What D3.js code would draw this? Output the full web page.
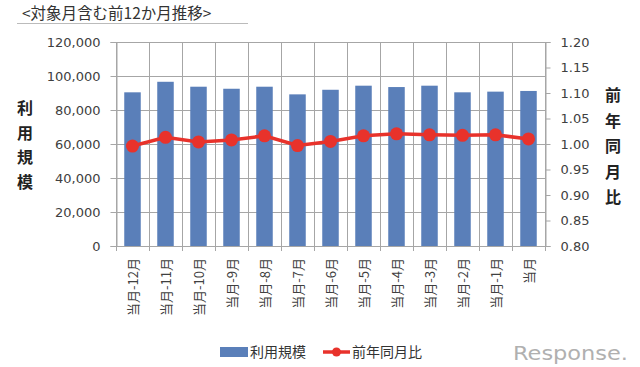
<!DOCTYPE html>
<html><head><meta charset="utf-8">
<script src="https://cdn.jsdelivr.net/npm/d3@7"></script>
<style>
body{margin:0;background:#fff;}
svg{display:block;}
</style></head>
<body>
<svg id="c" width="640" height="367"></svg>
<script>
const categories = ["当月-12月","当月-11月","当月-10月","当月-9月","当月-8月","当月-7月","当月-6月","当月-5月","当月-4月","当月-3月","当月-2月","当月-1月","当月"];
const usage = [90400, 96600, 93700, 92500, 93700, 89200, 91900, 94300, 93500, 94300, 90400, 90800, 91200];
const yoy = [0.996, 1.013, 1.004, 1.008, 1.016, 0.997, 1.005, 1.016, 1.020, 1.018, 1.017, 1.018, 1.010];
const leftTicks = [0, 20000, 40000, 60000, 80000, 100000, 120000];
const rightTicks = [0.80, 0.85, 0.90, 0.95, 1.00, 1.05, 1.10, 1.15, 1.20];
const title = "<対象月含む前12か月推移>";
const leftTitle = "利用規模";
const rightTitle = "前年同月比";

const svg = d3.select("#c");
const L = 116, R = 545, T = 42, B = 246;
const numFont = "'DejaVu Sans', sans-serif";
const jpFont = "'Noto Sans CJK JP', sans-serif";
const gridC = "#a6a6a6", textC = "#404040";
const barC = "#5a7fb9", lineC = "#e8322b";

const x = d3.scaleBand().domain(categories).range([L, R]).paddingInner(0.5).paddingOuter(0.25);
const xb = d3.scaleBand().domain(categories).range([L, R]);
const yL = d3.scaleLinear().domain([0, 120000]).range([B, T]);
const yR = d3.scaleLinear().domain([0.80, 1.20]).range([B, T]);

// title
svg.append("text").attr("x", 22).attr("y", 19).attr("font-family", jpFont).attr("font-size", 15.5)
  .attr("fill", "#333").text(title);
svg.append("line").attr("x1", 17).attr("x2", 248).attr("y1", 23.5).attr("y2", 23.5).attr("stroke", "#bbb").attr("stroke-width", 1);

// horizontal grid
svg.append("g").selectAll("line").data(leftTicks).join("line")
  .attr("x1", L).attr("x2", R).attr("y1", d => Math.round(yL(d)) + 0.5).attr("y2", d => Math.round(yL(d)) + 0.5)
  .attr("stroke", gridC).attr("stroke-width", 1);
// vertical grid
const bounds = categories.map(c => xb(c)).concat([R]);
svg.append("g").selectAll("line").data(bounds).join("line")
  .attr("x1", d => Math.round(d) + 0.5).attr("x2", d => Math.round(d) + 0.5).attr("y1", T).attr("y2", B + 5)
  .attr("stroke", gridC).attr("stroke-width", 1);

// bars
svg.append("g").selectAll("rect").data(usage).join("rect")
  .attr("x", (d, i) => x(categories[i])).attr("width", x.bandwidth())
  .attr("y", d => yL(d)).attr("height", d => B - yL(d)).attr("fill", barC);

// left axis
const gL = svg.append("g").attr("transform", `translate(${L + 0.5},0)`)
  .call(d3.axisLeft(yL).tickValues(leftTicks).tickSize(6).tickPadding(10).tickFormat(d3.format(",")));
gL.select(".domain").attr("stroke", gridC);
gL.selectAll(".tick line").attr("stroke", gridC);
gL.selectAll("text").attr("font-family", numFont).attr("font-size", 13).attr("fill", textC);

// right axis
const gR = svg.append("g").attr("transform", `translate(${R + 0.5},0)`)
  .call(d3.axisRight(yR).tickValues(rightTicks).tickSize(5).tickPadding(10).tickFormat(d3.format(".2f")));
gR.select(".domain").attr("stroke", gridC);
gR.selectAll(".tick line").attr("stroke", gridC);
gR.selectAll("text").attr("font-family", numFont).attr("font-size", 13).attr("fill", textC);

// bottom axis line
svg.append("line").attr("x1", L).attr("x2", R).attr("y1", B + 0.5).attr("y2", B + 0.5).attr("stroke", gridC);

// x labels
svg.append("g").selectAll("text").data(categories).join("text")
  .attr("transform", d => `translate(${x(d) + x.bandwidth() / 2 + 5},${B + 12}) rotate(-90)`)
  .attr("text-anchor", "end").attr("font-family", jpFont).attr("font-size", 13).attr("fill", textC)
  .text(d => d);

// line
const line = d3.line().x((d, i) => x(categories[i]) + x.bandwidth() / 2).y(d => yR(d));
svg.append("path").datum(yoy).attr("d", line).attr("fill", "none").attr("stroke", lineC).attr("stroke-width", 3.5);
svg.append("g").selectAll("circle").data(yoy).join("circle")
  .attr("cx", (d, i) => x(categories[i]) + x.bandwidth() / 2).attr("cy", d => yR(d)).attr("r", 6.5).attr("fill", lineC);

// axis titles (vertical stacked)
svg.append("g").selectAll("text").data(Array.from(leftTitle)).join("text")
  .attr("x", 25).attr("y", (d, i) => 114 + i * 24.5).attr("text-anchor", "middle")
  .attr("font-family", jpFont).attr("font-weight", "bold").attr("font-size", 16).attr("fill", "#222").text(d => d);
svg.append("g").selectAll("text").data(Array.from(rightTitle)).join("text")
  .attr("x", 613).attr("y", (d, i) => 101 + i * 25.5).attr("text-anchor", "middle")
  .attr("font-family", jpFont).attr("font-weight", "bold").attr("font-size", 16).attr("fill", "#222").text(d => d);

// legend
const lg = svg.append("g");
lg.append("rect").attr("x", 220).attr("y", 347).attr("width", 28).attr("height", 10).attr("fill", barC);
lg.append("text").attr("x", 250).attr("y", 357).attr("font-family", jpFont).attr("font-size", 14).attr("fill", "#333").text(leftTitle);
lg.append("line").attr("x1", 323).attr("x2", 350).attr("y1", 352).attr("y2", 352).attr("stroke", lineC).attr("stroke-width", 3.5);
lg.append("circle").attr("cx", 336.5).attr("cy", 352).attr("r", 4.5).attr("fill", lineC);
lg.append("text").attr("x", 352).attr("y", 357).attr("font-family", jpFont).attr("font-size", 14).attr("fill", "#333").text(rightTitle);

// watermark
svg.append("text").attr("x", 513).attr("y", 360).attr("font-family", "'DejaVu Sans', sans-serif").attr("font-size", 20)
  .attr("fill", "#b0b0b0").attr("textLength", 115).attr("lengthAdjust", "spacingAndGlyphs").text("Response.");
</script>
</body></html>
